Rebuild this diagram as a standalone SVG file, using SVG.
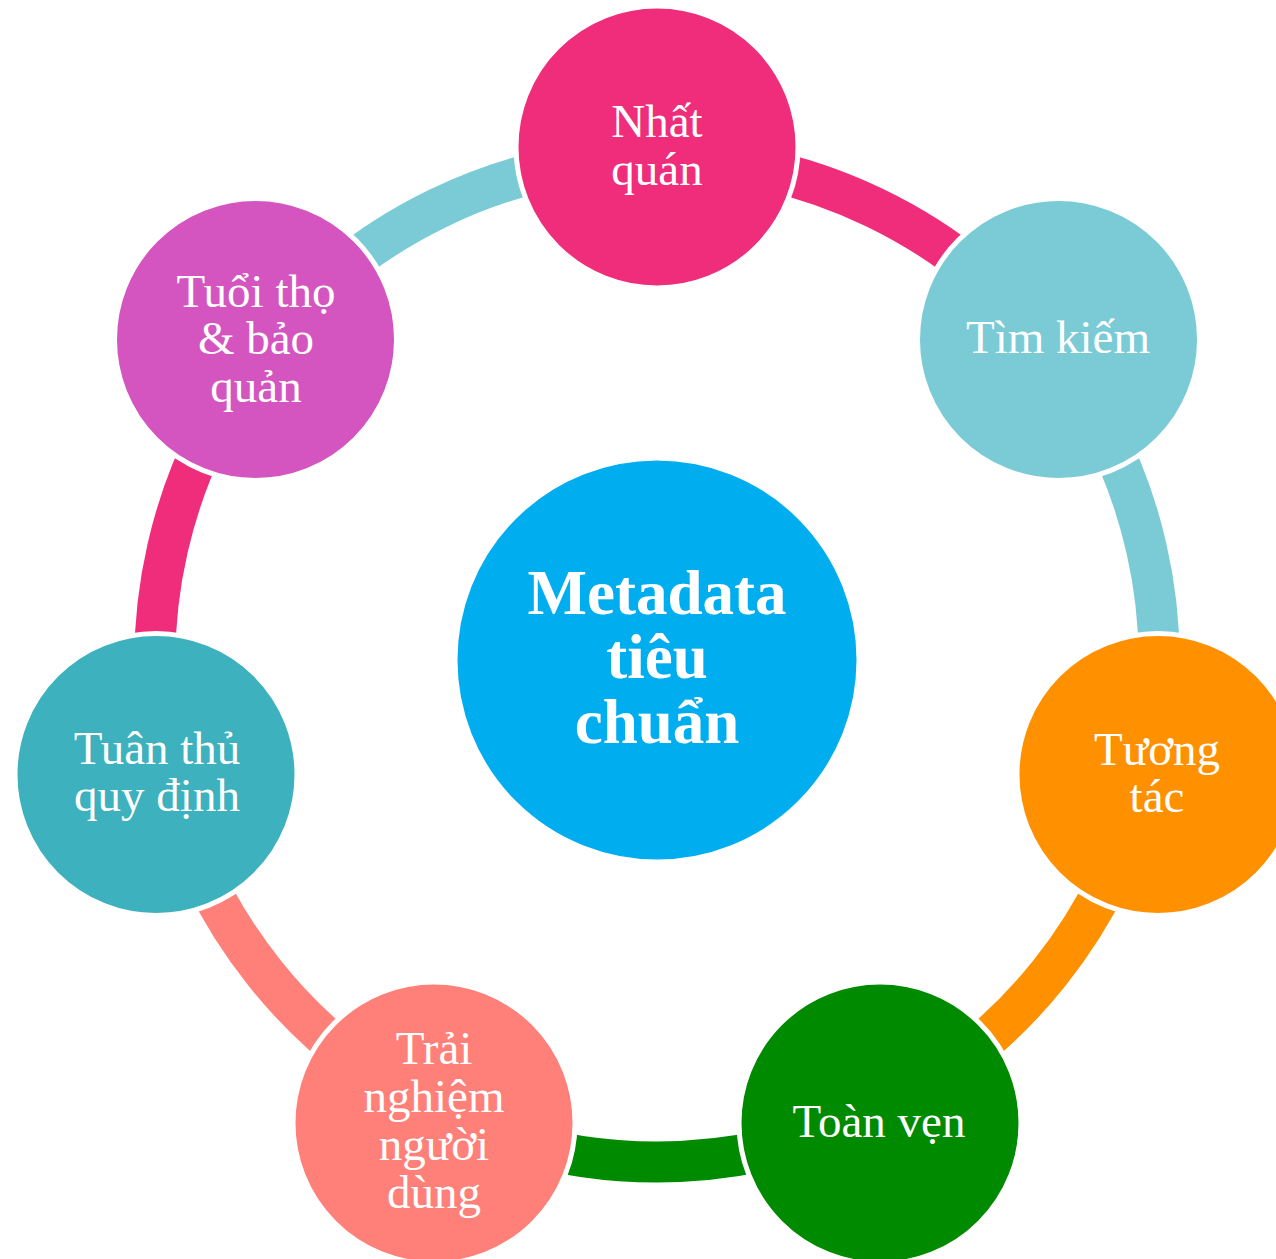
<svg xmlns="http://www.w3.org/2000/svg" width="1276" height="1259" viewBox="0 0 1276 1259">
<style>
.arc{fill:none;stroke-width:41;stroke-linecap:butt}
.node{stroke:#FFFFFF;stroke-width:5}
.lbl{font-family:"Liberation Serif","DejaVu Serif",serif;font-size:47px;fill:#FFFFFF;text-anchor:middle}
.ctr{font-family:"Liberation Serif","DejaVu Serif",serif;font-size:63px;font-weight:bold;fill:#FFFFFF;text-anchor:middle}
</style>
<rect width="1276" height="1259" fill="#FFFFFF"/>
<g id="connectors">
<path class="arc" stroke="#EF2D7B" d="M657 158 A502 502 0 0 1 1049.48 347"/>
<path class="arc" stroke="#7BCBD6" d="M1049.48 347 A502 502 0 0 1 1146.41 771.71"/>
<path class="arc" stroke="#FF9100" d="M1146.41 771.71 A502 502 0 0 1 874.81 1112.29"/>
<path class="arc" stroke="#008A00" d="M874.81 1112.29 A502 502 0 0 1 439.19 1112.29"/>
<path class="arc" stroke="#FF7F79" d="M439.19 1112.29 A502 502 0 0 1 167.59 771.71"/>
<path class="arc" stroke="#EF2D7B" d="M167.59 771.71 A502 502 0 0 1 264.52 347"/>
<path class="arc" stroke="#7BCBD6" d="M264.52 347 A502 502 0 0 1 657 158"/>
</g>
<g id="center">
<circle class="node" cx="657" cy="660" r="202" fill="#00ADEF"/>
<text class="ctr" x="657" y="614">Metadata</text>
<text class="ctr" x="657" y="678">tiêu</text>
<text class="ctr" x="657" y="743">chuẩn</text>
</g>
<g id="node-nhat-quan">
<circle class="node" cx="657" cy="147" r="141" fill="#EF2D7B"/>
<text class="lbl" x="657" y="137">Nhất</text>
<text class="lbl" x="657" y="185">quán</text>
</g>
<g id="node-tim-kiem">
<circle class="node" cx="1058.5" cy="339.5" r="141" fill="#7BCBD6"/>
<text class="lbl" x="1058" y="353">Tìm kiếm</text>
</g>
<g id="node-tuong-tac">
<circle class="node" cx="1158" cy="774.5" r="141" fill="#FF9100"/>
<text class="lbl" x="1157" y="765">Tương</text>
<text class="lbl" x="1157" y="812">tác</text>
</g>
<g id="node-toan-ven">
<circle class="node" cx="880" cy="1123" r="141" fill="#008A00"/>
<text class="lbl" x="879" y="1137">Toàn vẹn</text>
</g>
<g id="node-trai-nghiem">
<circle class="node" cx="434" cy="1123" r="141" fill="#FF7F79"/>
<text class="lbl" x="434" y="1064">Trải</text>
<text class="lbl" x="434" y="1112">nghiệm</text>
<text class="lbl" x="434" y="1160">người</text>
<text class="lbl" x="434" y="1208">dùng</text>
</g>
<g id="node-tuan-thu">
<circle class="node" cx="156" cy="774.5" r="141" fill="#3DB1BD"/>
<text class="lbl" x="157" y="764">Tuân thủ</text>
<text class="lbl" x="157" y="811">quy định</text>
</g>
<g id="node-tuoi-tho">
<circle class="node" cx="255.5" cy="339.5" r="141" fill="#D555C0"/>
<text class="lbl" x="256" y="307">Tuổi thọ</text>
<text class="lbl" x="256" y="354">&amp; bảo</text>
<text class="lbl" x="256" y="402">quản</text>
</g>
</svg>
